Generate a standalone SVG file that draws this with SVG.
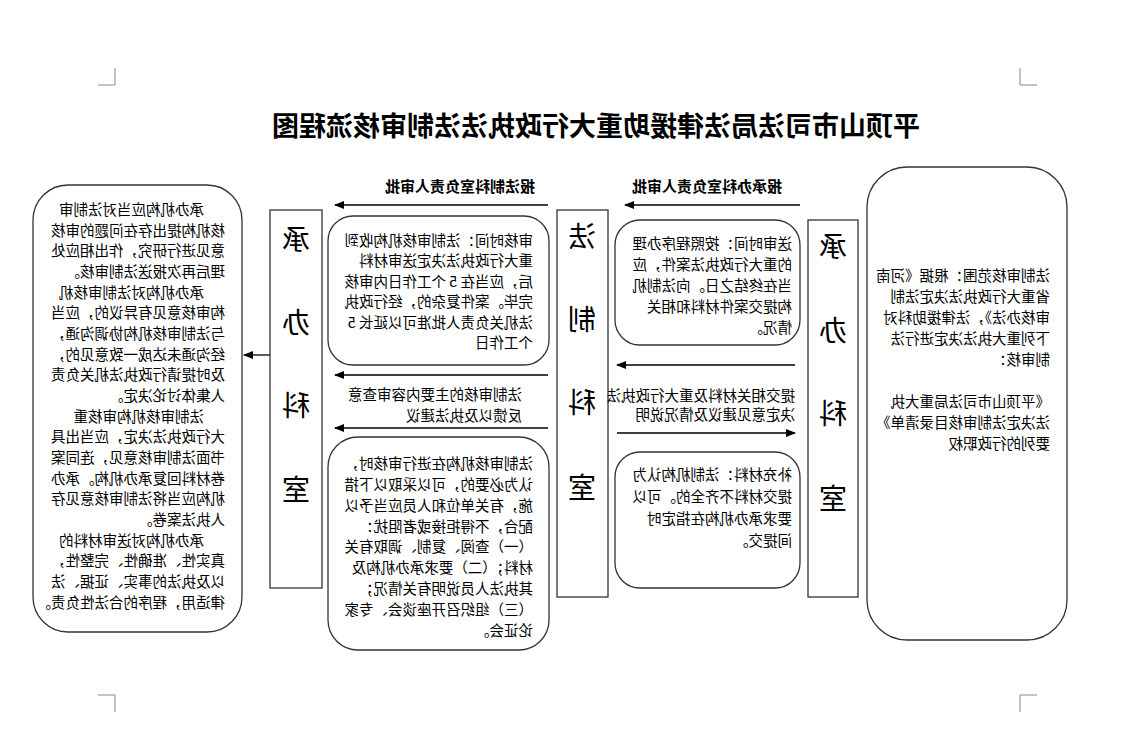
<svg xmlns="http://www.w3.org/2000/svg" width="1122" height="733" viewBox="0 0 1122 733">
<style>
text{font-family:"Noto Sans CJK SC","Noto Sans",sans-serif;fill:#000}
.t{font-size:14.5px}
.h{font-size:15px;font-weight:bold}
.v{font-size:28px;text-anchor:middle}
.box{fill:#fff;stroke:#333;stroke-width:1.3}
.ln{stroke:#000;stroke-width:1.3;fill:none}
.cm{stroke:#888;stroke-width:1;fill:none}
</style>
<defs><marker id="a" markerWidth="10" markerHeight="8" refX="9" refY="4" orient="auto" markerUnits="userSpaceOnUse"><path d="M0,0L10,4L0,8z" fill="#000"/></marker></defs>
<g id="corners">
<path class="cm" d="M115,68V85H98M1020,68V85H1037M115,712V695H98M1020,712V695H1037"/>
</g>
<g id="title"><text transform="translate(920,136) scale(-1,1)" style="font-size:27px;font-weight:bold">平顶山市司法局法律援助重大行政执法法制审核流程图</text></g>
<g id="connectors">
<line class="ln" x1="270" y1="355" x2="244" y2="355" marker-end="url(#a)"/>
<line class="ln" x1="548" y1="205" x2="335" y2="205" marker-end="url(#a)"/>
<line class="ln" x1="548" y1="375" x2="335" y2="375" marker-end="url(#a)"/>
<line class="ln" x1="548" y1="428" x2="335" y2="428" marker-end="url(#a)"/>
<line class="ln" x1="800" y1="205" x2="625" y2="205" marker-end="url(#a)"/>
<line class="ln" x1="795" y1="365" x2="617" y2="365" marker-end="url(#a)"/>
<line class="ln" x1="617" y1="433" x2="795" y2="433" marker-end="url(#a)"/>
</g>
<g id="left">
<rect class="box" x="33" y="185" width="209" height="447" rx="35"/>
<g class="t">
<text transform="translate(204,215) scale(-1,1)">承办机构应当对法制审</text>
<text transform="translate(225,236) scale(-1,1)">核机构提出存在问题的审核</text>
<text transform="translate(225,256) scale(-1,1)">意见进行研究，作出相应处</text>
<text transform="translate(225,277) scale(-1,1)">理后再次报送法制审核。</text>
<text transform="translate(204,298) scale(-1,1)">承办机构对法制审核机</text>
<text transform="translate(225,318) scale(-1,1)">构审核意见有异议的，应当</text>
<text transform="translate(225,339) scale(-1,1)">与法制审核机构协调沟通，</text>
<text transform="translate(225,360) scale(-1,1)">经沟通未达成一致意见的，</text>
<text transform="translate(225,380) scale(-1,1)">及时提请行政执法机关负责</text>
<text transform="translate(225,401) scale(-1,1)">人集体讨论决定。</text>
<text transform="translate(204,422) scale(-1,1)">法制审核机构审核重</text>
<text transform="translate(225,442) scale(-1,1)">大行政执法决定，应当出具</text>
<text transform="translate(225,463) scale(-1,1)">书面法制审核意见，连同案</text>
<text transform="translate(225,484) scale(-1,1)">卷材料回复承办机构。承办</text>
<text transform="translate(225,504) scale(-1,1)">机构应当将法制审核意见存</text>
<text transform="translate(225,525) scale(-1,1)">人执法案卷。</text>
<text transform="translate(204,546) scale(-1,1)">承办机构对送审材料的</text>
<text transform="translate(225,566) scale(-1,1)">真实性、准确性、完整性，</text>
<text transform="translate(225,587) scale(-1,1)">以及执法的事实、证据、法</text>
<text transform="translate(225,608) scale(-1,1)">律适用，程序的合法性负责。</text>
</g>
</g>
<g id="cbks1">
<rect class="box" x="270" y="210" width="52" height="378"/>
<text class="v" transform="translate(296,250) scale(-1,1)">承</text>
<text class="v" transform="translate(296,333) scale(-1,1)">办</text>
<text class="v" transform="translate(296,416) scale(-1,1)">科</text>
<text class="v" transform="translate(296,500) scale(-1,1)">室</text>
</g>
<g id="h1"><text class="h" transform="translate(535,192) scale(-1,1)">报法制科室负责人审批</text></g>
<g id="b1">
<rect class="box" x="328" y="216" width="221" height="149" rx="25"/>
<g class="t">
<text transform="translate(533,246) scale(-1,1)">审核时间：法制审核机构收到</text>
<text transform="translate(533,266) scale(-1,1)">重大行政执法决定送审材料</text>
<text transform="translate(533,287) scale(-1,1)">后，应当在 5 个工作日内审核</text>
<text transform="translate(533,307) scale(-1,1)">完毕。案件复杂的，经行政执</text>
<text transform="translate(533,328) scale(-1,1)">法机关负责人批准可以延长 5</text>
<text transform="translate(533,348) scale(-1,1)">个工作日</text>
</g>
</g>
<g id="l2" class="t">
<text transform="translate(522,400) scale(-1,1)">法制审核的主要内容审查意</text>
<text transform="translate(522,421) scale(-1,1)">反馈以及执法建议</text>
</g>
<g id="b2">
<rect class="box" x="328" y="437" width="221" height="213" rx="30"/>
<g class="t">
<text transform="translate(533,469) scale(-1,1)">法制审核机构在进行审核时，</text>
<text transform="translate(533,490) scale(-1,1)">认为必要的，可以采取以下措</text>
<text transform="translate(533,511) scale(-1,1)">施，有关单位和人员应当予以</text>
<text transform="translate(533,532) scale(-1,1)">配合，不得拒接或者阻扰：</text>
<text transform="translate(533,552) scale(-1,1)">（一）查阅、复制、调取有关</text>
<text transform="translate(533,573) scale(-1,1)">材料；（二）要求承办机构及</text>
<text transform="translate(533,594) scale(-1,1)">其执法人员说明有关情况；</text>
<text transform="translate(533,615) scale(-1,1)">（三）组织召开座谈会、专家</text>
<text transform="translate(533,636) scale(-1,1)">论证会。</text>
</g>
</g>
<g id="fzks">
<rect class="box" x="557" y="210" width="51" height="387"/>
<text class="v" transform="translate(582,247) scale(-1,1)">法</text>
<text class="v" transform="translate(582,330) scale(-1,1)">制</text>
<text class="v" transform="translate(582,413) scale(-1,1)">科</text>
<text class="v" transform="translate(582,498) scale(-1,1)">室</text>
</g>
<g id="h2"><text class="h" transform="translate(782,192) scale(-1,1)">报承办科室负责人审批</text></g>
<g id="b3">
<rect class="box" x="615" y="220" width="185" height="125" rx="25"/>
<g class="t">
<text transform="translate(792,249) scale(-1,1)">送审时间：按照程序办理</text>
<text transform="translate(792,270) scale(-1,1)">的重大行政执法案件，应</text>
<text transform="translate(792,291) scale(-1,1)">当在终结之日。向法制机</text>
<text transform="translate(792,312) scale(-1,1)">构提交案件材料和相关</text>
<text transform="translate(792,333) scale(-1,1)">情况。</text>
</g>
</g>
<g id="l3" class="t">
<text transform="translate(795,401) scale(-1,1)">提交相关材料及重大行政执法</text>
<text transform="translate(795,420) scale(-1,1)">决定意见建议及情况说明</text>
</g>
<g id="b4">
<rect class="box" x="615" y="452" width="185" height="136" rx="25"/>
<g class="t">
<text transform="translate(792,480) scale(-1,1)">补充材料：法制机构认为</text>
<text transform="translate(792,502) scale(-1,1)">提交材料不齐全的。可以</text>
<text transform="translate(792,524) scale(-1,1)">要求承办机构在指定时</text>
<text transform="translate(792,546) scale(-1,1)">间提交。</text>
</g>
</g>
<g id="cbks2">
<rect class="box" x="808" y="220" width="50" height="377"/>
<text class="v" transform="translate(833,257) scale(-1,1)">承</text>
<text class="v" transform="translate(833,341) scale(-1,1)">办</text>
<text class="v" transform="translate(833,424) scale(-1,1)">科</text>
<text class="v" transform="translate(833,509) scale(-1,1)">室</text>
</g>
<g id="right">
<rect class="box" x="867" y="167" width="200" height="473" rx="40"/>
<g class="t">
<text transform="translate(1050,281) scale(-1,1)">法制审核范围：根据《河南</text>
<text transform="translate(1050,302) scale(-1,1)">省重大行政执法决定法制</text>
<text transform="translate(1050,323) scale(-1,1)">审核办法》，法律援助科对</text>
<text transform="translate(1050,344) scale(-1,1)">下列重大执法决定进行法</text>
<text transform="translate(1050,365) scale(-1,1)">制审核：</text>
<text transform="translate(1050,407) scale(-1,1)">《平顶山市司法局重大执</text>
<text transform="translate(1050,428) scale(-1,1)">法决定法制审核目录清单》</text>
<text transform="translate(1050,449) scale(-1,1)">要列的行政职权</text>
</g>
</g>
</svg>
